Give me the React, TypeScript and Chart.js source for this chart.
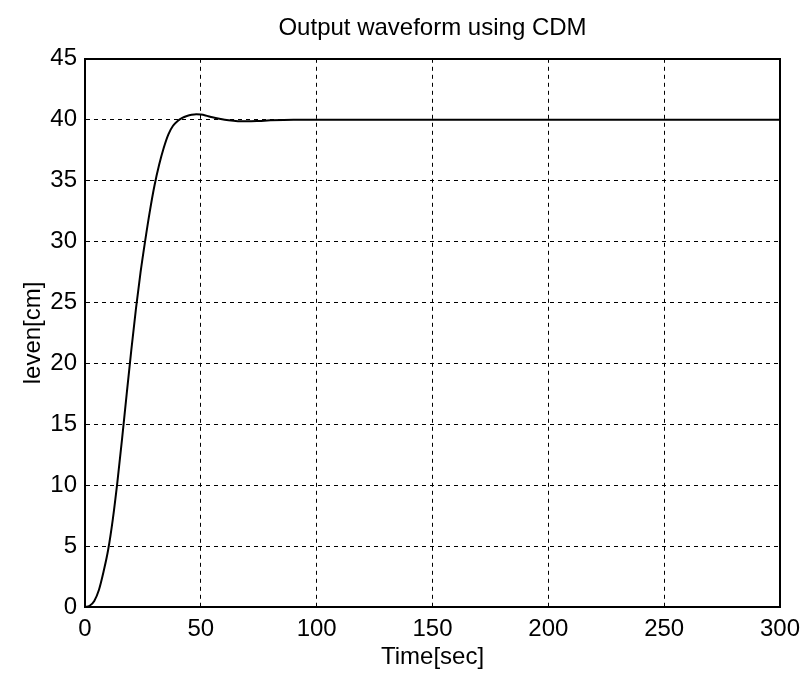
import React, { useEffect, useRef } from 'react';
import { Chart, registerables } from 'chart.js';

Chart.register(...registerables);

const chartTitle = 'Output waveform using CDM';
const xAxisLabel = 'Time[sec]';
const yAxisLabel = 'leven[cm]';

const xTickValues = [0, 50, 100, 150, 200, 250, 300];
const yTickValues = [0, 5, 10, 15, 20, 25, 30, 35, 40, 45];

const timeValues = [
  0, 2, 4, 6, 8, 10, 12, 14, 16, 18, 20, 22, 24, 26, 28, 30, 32, 34, 36, 38,
  40, 42, 44, 46, 48, 50, 52, 55, 58, 62, 66, 70, 75, 80, 90, 100, 150, 200, 250, 300,
];
const levelValues = [
  0, 0.1, 0.5, 1.4, 2.9, 4.7, 7.2, 10.3, 13.8, 17.5, 21.1, 24.5, 27.5, 30.1, 32.5, 34.6, 36.3, 37.7, 38.8, 39.5,
  39.9, 40.15, 40.3, 40.4, 40.45, 40.42, 40.35, 40.2, 40.08, 39.95, 39.88, 39.87, 39.9, 39.95, 40.0, 40.0, 40.0, 40.0, 40.0, 40.0,
];

const FONT = "'Liberation Sans', Arial, sans-serif";

export default function App() {
  const ref = useRef<HTMLCanvasElement>(null);

  useEffect(() => {
    const canvas = ref.current;
    if (!canvas) return;
    const chart = new Chart(canvas, {
      type: 'line',
      data: {
        datasets: [
          {
            data: timeValues.map((t, i) => ({ x: t, y: levelValues[i] })),
            borderColor: '#000',
            borderWidth: 2,
            pointRadius: 0,
            cubicInterpolationMode: 'monotone',
            fill: false,
          },
        ],
      },
      options: {
        responsive: false,
        animation: false,
        devicePixelRatio: 1,
        layout: { padding: { right: 21 } },
        plugins: {
          legend: { display: false },
          tooltip: { enabled: false },
          title: {
            display: true,
            text: chartTitle,
            fullSize: false,
            color: '#000',
            font: { family: FONT, size: 24, weight: 'normal' },
            padding: { top: 14, bottom: 16 },
          },
        },
        scales: {
          x: {
            type: 'linear',
            position: 'bottom',
            min: 0,
            max: 300,
            afterBuildTicks: (s: any) => {
              s.ticks = xTickValues.map((v) => ({ value: v }));
            },
            afterFit: (s: any) => {
              s.height = 67;
              s.paddingRight = 21;
              s.paddingLeft = 10;
            },
            grid: { color: '#000', lineWidth: 1, drawTicks: false },
            border: { display: true, color: '#000', width: 2, dash: [4, 4] },
            ticks: {
              color: '#000',
              padding: 8,
              maxRotation: 0,
              font: { family: FONT, size: 24 },
            },
            title: {
              display: true,
              text: xAxisLabel,
              color: '#000',
              font: { family: FONT, size: 24 },
              padding: { top: 0, bottom: 2 },
            },
          },
          y: {
            type: 'linear',
            position: 'left',
            min: 0,
            max: 45,
            afterBuildTicks: (s: any) => {
              s.ticks = yTickValues.map((v) => ({ value: v }));
            },
            afterFit: (s: any) => {
              s.width = 85;
            },
            grid: { color: '#000', lineWidth: 1, drawTicks: false },
            border: { display: true, color: '#000', width: 2, dash: [4, 4] },
            ticks: {
              color: '#000',
              padding: 8,
              font: { family: FONT, size: 24 },
            },
            title: {
              display: true,
              text: yAxisLabel,
              color: '#000',
              font: { family: FONT, size: 24 },
              padding: { top: 19, bottom: 0 },
            },
          },
          x2: {
            type: 'linear',
            position: 'top',
            min: 0,
            max: 300,
            grid: { display: false, drawTicks: false },
            ticks: { display: false },
            border: { display: true, color: '#000', width: 2 },
            afterFit: (s: any) => {
              s.height = 0;
            },
          },
          y2: {
            type: 'linear',
            position: 'right',
            min: 0,
            max: 45,
            grid: { display: false, drawTicks: false },
            ticks: { display: false },
            border: { display: true, color: '#000', width: 2 },
            afterFit: (s: any) => {
              s.width = 0;
            },
          },
        },
      } as any,
    });
    return () => chart.destroy();
  }, []);

  return (
    <div style={{ position: 'absolute', left: 0, top: 0, width: 801, height: 674, background: '#fff' }}>
      <canvas ref={ref} width={801} height={674} style={{ width: 801, height: 674, display: 'block' }} />
    </div>
  );
}
